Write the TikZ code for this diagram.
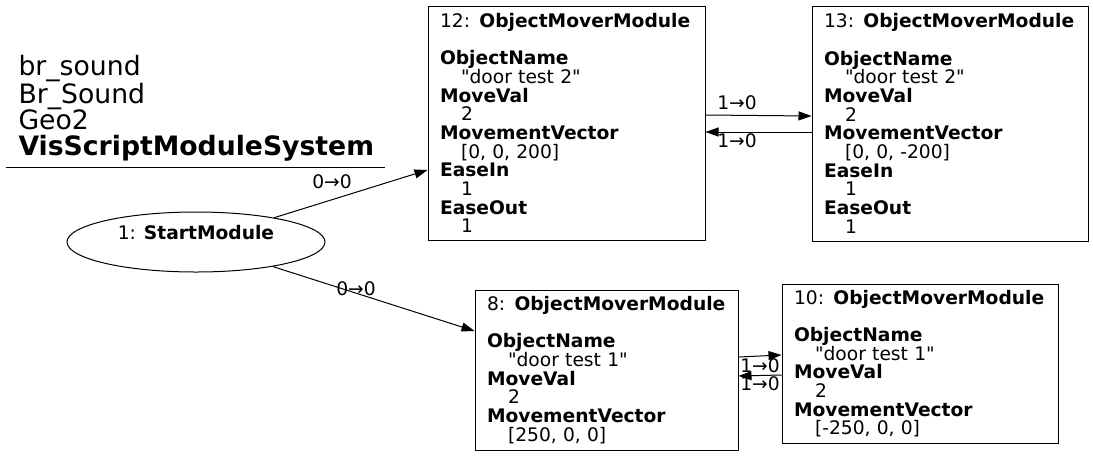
\documentclass[tikz,border=0pt]{standalone}
\usepackage{fontspec}
\setmainfont{DejaVu Sans}
\usetikzlibrary{positioning, shapes.geometric, arrows.meta, calc}
\newcommand{\valind}{\hspace*{21pt}}
\newcommand{\dq}{\textquotedbl}

\begin{document}
\begin{tikzpicture}[x=1pt, y=-1pt, line width=1pt,
  module/.style={draw, rectangle, align=left, inner xsep=12pt, inner ysep=0pt,
                 font=\fontsize{18.67}{18.67}\selectfont},
  startmod/.style={draw, ellipse, inner sep=0pt, minimum width=258pt,
                   minimum height=60pt},
  arrow/.style={-{Triangle[length=13pt,width=9pt]}},
  lbl/.style={inner sep=0pt, font=\fontsize{18.67}{18.67}\selectfont}
]
  \useasboundingbox (0,0) rectangle (1093,456);

  % graph title
  \node[align=left, inner sep=0pt, anchor=north west,
        font=\fontsize{26.67}{26.3}\selectfont] (title) at (18,55)
       {br\_sound\\Br\_Sound\\Geo2\\\textbf{VisScriptModuleSystem}};
  \draw (6,167) -- (385,167);

  \node[startmod, label={[lbl, yshift=9pt]center:{1: \textbf{StartModule}}}] (start) at (196,242) {};

  \node[module, minimum width=277pt, minimum height=234pt, text width=253pt] (n12) at (566.5,123)
       {12: \textbf{ObjectMoverModule}\\\mbox{}\\
        \textbf{ObjectName}\\\valind\dq door test 2\dq\\
        \textbf{MoveVal}\\\valind 2\\
        \textbf{MovementVector}\\\valind[0, 0, 200]\\
        \textbf{EaseIn}\\\valind 1\\
        \textbf{EaseOut}\\\valind 1};
  \node[module, minimum width=276pt, minimum height=235pt, text width=252pt] (n13) at (950,123.5)
       {13: \textbf{ObjectMoverModule}\\\mbox{}\\
        \textbf{ObjectName}\\\valind\dq door test 2\dq\\
        \textbf{MoveVal}\\\valind 2\\
        \textbf{MovementVector}\\\valind[0, 0, -200]\\
        \textbf{EaseIn}\\\valind 1\\
        \textbf{EaseOut}\\\valind 1};
  \node[module, minimum width=263pt, minimum height=160pt, text width=239pt] (n8) at (606.5,370)
       {8: \textbf{ObjectMoverModule}\\\mbox{}\\
        \textbf{ObjectName}\\\valind\dq door test 1\dq\\
        \textbf{MoveVal}\\\valind 2\\
        \textbf{MovementVector}\\\valind[250, 0, 0]};
  \node[module, minimum width=276pt, minimum height=159pt, text width=252pt] (n10) at (920,363.5)
       {10: \textbf{ObjectMoverModule}\\\mbox{}\\
        \textbf{ObjectName}\\\valind\dq door test 1\dq\\
        \textbf{MoveVal}\\\valind 2\\
        \textbf{MovementVector}\\\valind[-250, 0, 0]};

  \draw[arrow] (start) -- ([yshift=-47pt]n12.west) node[lbl] at (332,182) {0→0};
  \draw[arrow] (start) -- ([yshift=39pt]n8.west) node[lbl] at (356,289) {0→0};
  \draw[arrow] ([yshift=8pt]n12.east) -- ([yshift=7.5pt]n13.west) node[lbl] at (737,103) {1→0};
  \draw[arrow] ([yshift=-8.5pt]n13.west) -- ([yshift=-9pt]n12.east) node[lbl] at (737,141) {1→0};
  \draw[arrow] ([yshift=13pt]n8.east) -- ([yshift=8.5pt]n10.west) node[lbl] at (760,366) {1→0};
  \draw[arrow] ([yshift=-11.5pt]n10.west) -- ([yshift=-6pt]n8.east) node[lbl] at (760,384) {1→0};
\end{tikzpicture}
\end{document}
